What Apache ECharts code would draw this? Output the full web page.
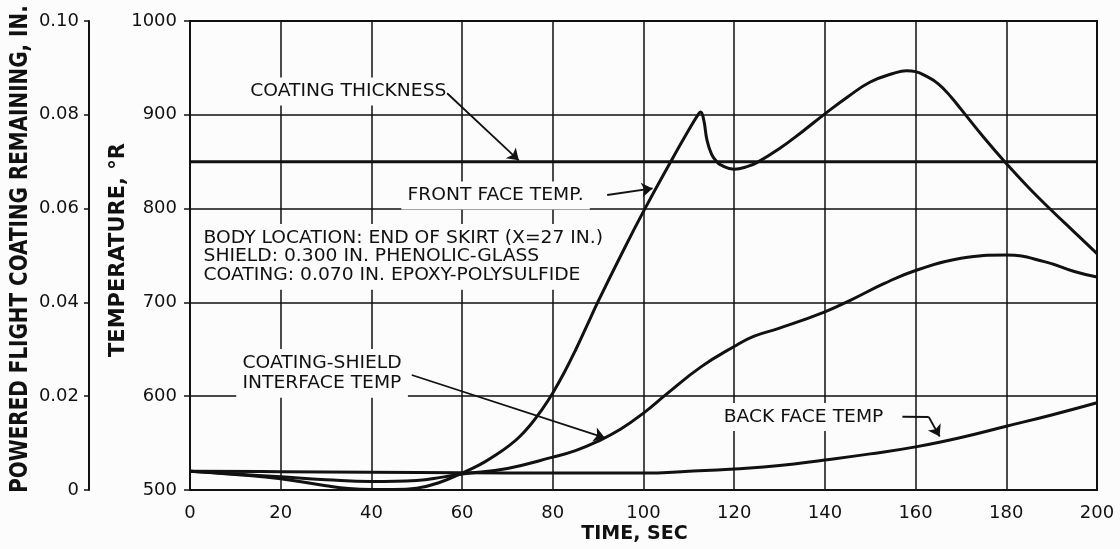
<!DOCTYPE html>
<html><head><meta charset="utf-8">
<script src="https://cdn.jsdelivr.net/npm/echarts@6/dist/echarts.min.js"></script>
<style>html,body{margin:0;padding:0;background:#fcfcfc;} #c{width:1120px;height:549px;}</style>
</head><body><div id="c"></div>
<script>
// ---------------- data ----------------
const timeTicks = [0, 20, 40, 60, 80, 100, 120, 140, 160, 180, 200];
const tempTicks = [500, 600, 700, 800, 900, 1000];
const coatingTicks = ['0', '0.02', '0.04', '0.06', '0.08', '0.10'];

const frontTime = [0, 10, 20, 30, 35, 40, 45, 50, 55, 60, 62.5, 65, 67.5, 70, 72.5, 75, 77.5, 80, 82.5, 85, 87.5, 90, 95, 100, 106, 110, 112, 112.6, 113.3, 114, 115, 116, 117, 120, 123, 125, 130, 135, 140, 145, 150, 155, 158, 160, 162, 165, 168, 170, 175, 180, 185, 190, 195, 200];
const frontTemp = [520, 516.5, 512, 504.5, 501.5, 500.5, 500.5, 502, 508, 518, 523.5, 530, 537.5, 546, 556, 569, 585, 603.5, 625, 649, 675, 701, 750, 797, 850, 884, 900, 903, 894, 873, 858, 851, 846.5, 842, 845, 849, 864, 882, 901, 919, 935, 944, 947, 946, 942, 933, 918, 906, 876, 848, 822, 798, 775, 752];

const interfaceTime = [0, 10, 20, 30, 40, 50, 56, 60, 70, 80, 85, 90, 95, 100, 105, 112.6, 120, 124.4, 130, 140, 145.7, 153, 160, 170, 180, 188.4, 195, 200];
const interfaceTemp = [520, 517, 514, 511, 509, 510, 514, 517, 523, 535, 542, 552, 565, 582, 602, 631, 653, 664, 672.5, 690, 702.5, 720, 734, 747, 750.5, 743.5, 733, 727];

const backTime = [0, 20, 40, 60, 80, 90, 100, 110, 120, 130, 140, 150, 160, 170, 180, 190, 200];
const backTemp = [520, 519.5, 519, 518.5, 518, 518, 518, 520, 522.5, 526, 532, 538.5, 546, 556, 568, 580, 593];

const coatingTime = [0, 200];
const coatingRemaining = [0.07, 0.07];

// annotation texts (language as in original)
const noteCoating = 'COATING THICKNESS';
const noteFront = 'FRONT FACE TEMP.';
const noteBody = ['BODY LOCATION: END OF SKIRT (X=27 IN.)', 'SHIELD: 0.300 IN. PHENOLIC-GLASS', 'COATING: 0.070 IN. EPOXY-POLYSULFIDE'];
const noteInterface = ['COATING-SHIELD', 'INTERFACE TEMP'];
const noteBack = 'BACK FACE TEMP';

// leader arrows in data space (time, temperature)
const arrowCoating = [[56.7, 923], [72.5, 851.5]];
const arrowFront = [[92.0, 814.5], [102.0, 821.5]];
const arrowInterface = [[48.9, 622.6], [91.5, 555.5]];
const leaderBack = [[157.1, 578.1], [162.9, 577.8]];
const arrowBack = [[162.9, 577.8], [165.3, 557]];

// ---------------- chart ----------------
const INK = '#111';
const FONT = '"DejaVu Sans", sans-serif';
const pairs = (xs, ys) => xs.map((x, i) => [x, ys[i]]);
const chart = echarts.init(document.getElementById('c'), null, {renderer: 'canvas'});

const lineSeries = (name, data, yIdx, sm) => ({
  name, type: 'line', data, yAxisIndex: yIdx || 0,
  showSymbol: false, symbol: 'none', smooth: sm === undefined ? 0.45 : sm,
  lineStyle: {color: INK, width: 3}, z: 5, silent: true
});

chart.setOption({
  backgroundColor: '#fcfcfc',
  animation: false,
  grid: {left: 190, right: 23, top: 21, bottom: 59, show: true, borderColor: INK, borderWidth: 2},
  xAxis: {
    type: 'value', min: timeTicks[0], max: timeTicks[timeTicks.length - 1], interval: timeTicks[1] - timeTicks[0],
    axisLine: {show: true, onZero: false, lineStyle: {color: INK, width: 2}},
    axisTick: {show: false},
    axisLabel: {fontSize: 18, fontFamily: FONT, color: INK, margin: 14, lineHeight: 18, formatter: v => String(v)},
    splitLine: {show: true, lineStyle: {color: INK, width: 1.5}}
  },
  yAxis: [{
    type: 'value', position: 'left', min: tempTicks[0], max: tempTicks[tempTicks.length - 1], interval: tempTicks[1] - tempTicks[0],
    axisLine: {show: true, lineStyle: {color: INK, width: 2}},
    axisTick: {show: true, length: 6, lineStyle: {color: INK, width: 1.5}},
    axisLabel: {fontSize: 18, fontFamily: FONT, color: INK, margin: 13, formatter: v => String(v)},
    splitLine: {show: true, lineStyle: {color: INK, width: 1.5}}
  }, {
    type: 'value', position: 'left', offset: 101, min: 0, max: 0.1, interval: 0.02,
    axisLine: {show: true, lineStyle: {color: INK, width: 2}},
    axisTick: {show: true, length: 5, lineStyle: {color: INK, width: 1.5}},
    axisLabel: {fontSize: 18, fontFamily: FONT, color: INK, margin: 10,
      formatter: v => coatingTicks[Math.round(v / 0.02)]},
    splitLine: {show: false}
  }],
  series: [
    lineSeries('Front face temp', pairs(frontTime, frontTemp)),
    lineSeries('Coating-shield interface temp', pairs(interfaceTime, interfaceTemp)),
    lineSeries('Back face temp', pairs(backTime, backTemp)),
    lineSeries('Coating thickness', pairs(coatingTime, coatingRemaining), 1, false),
    {
      type: 'lines', coordinateSystem: 'cartesian2d', silent: true, z: 6,
      symbol: ['none', 'arrow'], symbolSize: 11,
      lineStyle: {color: INK, width: 1.8, opacity: 1},
      itemStyle: {color: INK},
      data: [arrowCoating, arrowFront, arrowInterface, arrowBack].map(c => ({coords: c}))
    },
    {
      type: 'lines', coordinateSystem: 'cartesian2d', silent: true, z: 6,
      symbol: ['none', 'none'],
      lineStyle: {color: INK, width: 1.8, opacity: 1},
      data: [leaderBack].map(c => ({coords: c}))
    }
  ]
});

const px = (t, T) => chart.convertToPixel({xAxisIndex: 0, yAxisIndex: 0}, [t, T]);
const note = (text, t, T, lh) => {
  const p = px(t, T);
  return {
    type: 'text', x: p[0], y: p[1], z: 4, silent: true, scaleX: 1.04,
    style: {text, font: '18px ' + FONT, fill: INK, align: 'left', verticalAlign: 'middle',
      lineHeight: lh || 18, backgroundColor: '#fcfcfc', padding: [5, 6]}
  };
};
const gx = chart.convertToPixel({xAxisIndex: 0}, 100);
chart.setOption({
  graphic: [
    note(noteCoating, 11.9, 924.8),
    note(noteFront, 46.6, 814),
    note(noteBody.join('\n'), 1.6, 748.6, 18.6),
    note(noteInterface.join('\n'), 10.2, 624.3, 19.3),
    note(noteBack, 116.3, 577.8),
    {type: 'text', x: gx - 9, y: 534, silent: true,
     style: {text: 'TIME, SEC', font: 'bold 19px ' + FONT, fill: INK, align: 'center', verticalAlign: 'middle'}},
    {type: 'text', x: 119, y: 250, rotation: Math.PI / 2, silent: true,
     style: {text: 'TEMPERATURE, °R', font: 'bold 21px ' + FONT, fill: INK, align: 'center', verticalAlign: 'middle'}},
    {type: 'text', x: 21, y: 249, rotation: Math.PI / 2, scaleX: 0.83, silent: true,
     style: {text: 'POWERED FLIGHT COATING REMAINING, IN.', font: 'bold 24px ' + FONT, fill: INK, align: 'center', verticalAlign: 'middle'}}
  ]
});
</script>
</body></html>
